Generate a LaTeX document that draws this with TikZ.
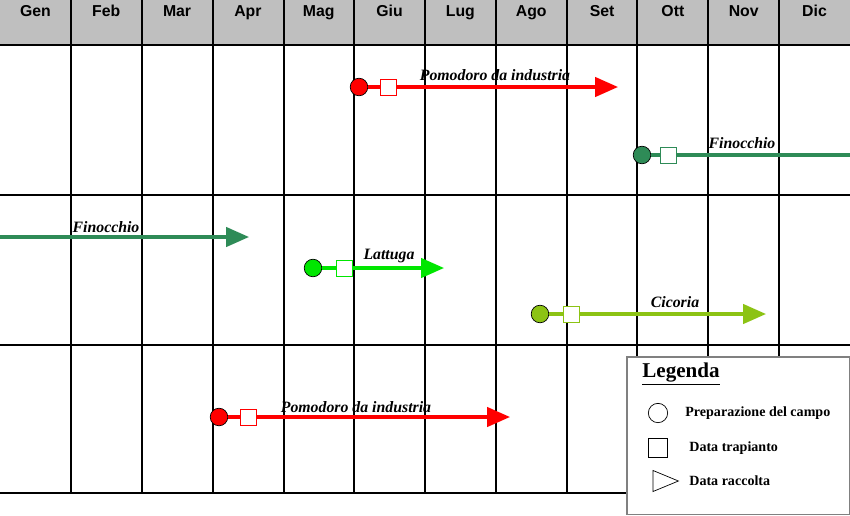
\documentclass[tikz,border=0pt]{standalone}
\usepackage{fontspec}
\setmainfont{Liberation Serif}
\setsansfont{Liberation Sans}
\usetikzlibrary{arrows.meta}
\usetikzlibrary{shapes.geometric}
\definecolor{pom}{RGB}{255,0,0}
\definecolor{fin}{RGB}{46,139,87}
\definecolor{lat}{RGB}{0,230,0}
\definecolor{cic}{RGB}{140,195,20}
\tikzset{
  start/.style={circle,draw=black,inner sep=0pt,minimum size=10pt},
  trap/.style={rectangle,draw,fill=white,inner sep=0pt,minimum size=9pt},
  crop/.style={line width=1.8pt,-{Triangle[length=13pt,width=11pt]}},
  lbl/.style={font=\bfseries\itshape\small}
}
\begin{document}
\begin{tikzpicture}[x=0.02cm,y=-0.02cm]

        \useasboundingbox (0,0) rectangle (850,515);
        \fill[gray!50] (0,0) rectangle (850,45);
        \foreach \x in {71,142,213,284,354,425,496,567,637,708,779}
            \draw[line width=1.2pt] (\x,0) -- (\x,493);
        \foreach \y in {45,195,345,493}
            \draw[line width=1.2pt] (0,\y) -- (850,\y);
        \foreach \m [count=\i] in {Gen,Feb,Mar,Apr,Mag,Giu,Lug,Ago,Set,Ott,Nov,Dic}
            \node[font=\sffamily\bfseries\small,anchor=base] (m\i) at ({(\i-0.5)*70.83},16) {\m};

        \path   (359,87) node (p1s) [start,fill=pom] {}
                (388,87) node (p1t) [trap,draw=pom] {}
                (618,87) coordinate (p1e)
                (642,155) node (f1s) [start,fill=fin] {}
                (668,155) node (f1t) [trap,draw=fin] {}
                (850,155) coordinate (f1e)
                (0,237) coordinate (f2s)
                (249,237) coordinate (f2e)
                (313,268) node (l1s) [start,fill=lat] {}
                (344,268) node (l1t) [trap,draw=lat] {}
                (444,268) coordinate (l1e)
                (540,314) node (c1s) [start,fill=cic] {}
                (571,314) node (c1t) [trap,draw=cic] {}
                (766,314) coordinate (c1e)
                (219,417) node (p2s) [start,fill=pom] {}
                (248,417) node (p2t) [trap,draw=pom] {}
                (510,417) coordinate (p2e);

        \draw[line width=1.8pt,pom] (p1s) -- (p1t);
        \draw[crop,pom] (p1t) -- (p1e);
        \draw[line width=1.8pt,fin] (f1s) -- (f1t);
        \draw[line width=1.8pt,fin] (f1t) -- (f1e);
        \draw[crop,fin] (f2s) -- (f2e);
        \draw[line width=1.8pt,lat] (l1s) -- (l1t);
        \draw[crop,lat] (l1t) -- (l1e);
        \draw[line width=1.8pt,cic] (c1s) -- (c1t);
        \draw[crop,cic] (c1t) -- (c1e);
        \draw[line width=1.8pt,pom] (p2s) -- (p2t);
        \draw[crop,pom] (p2t) -- (p2e);

        \node[lbl] (p1l) at (495,75) {Pomodoro da industria};
        \node[lbl] (f1l) at (742,143) {Finocchio};
        \node[lbl] (f2l) at (106,227) {Finocchio};
        \node[lbl] (l1l) at (389,256) {Lattuga};
        \node[lbl] (c1l) at (675,302) {Cicoria};
        \node[lbl] (p2l) at (356,407) {Pomodoro da industria};

        % legenda
        \draw[gray,fill=white,line width=0.8pt] (627,357) rectangle (849.5,514.5);
        \node[font=\bfseries\large] (leg) at (681,374) {\underline{Legenda}};
        \node[circle,draw,inner sep=0pt,minimum size=11pt] (k1) at (658,413) {};
        \node[font=\bfseries\footnotesize,anchor=west,inner sep=0pt] (t1) at (685,413) {Preparazione del campo};
        \node[rectangle,draw,inner sep=0pt,minimum size=11pt] (k2) at (658,448) {};
        \node[font=\bfseries\footnotesize,anchor=west,inner sep=0pt] (t2) at (689,448) {Data trapianto};
        \node[isosceles triangle,draw,inner sep=0pt,minimum height=13pt,minimum width=12pt] (k3) at (660,481) {};
        \node[font=\bfseries\footnotesize,anchor=west,inner sep=0pt] (t3) at (689,481) {Data raccolta};

    \end{tikzpicture}
\end{document}
